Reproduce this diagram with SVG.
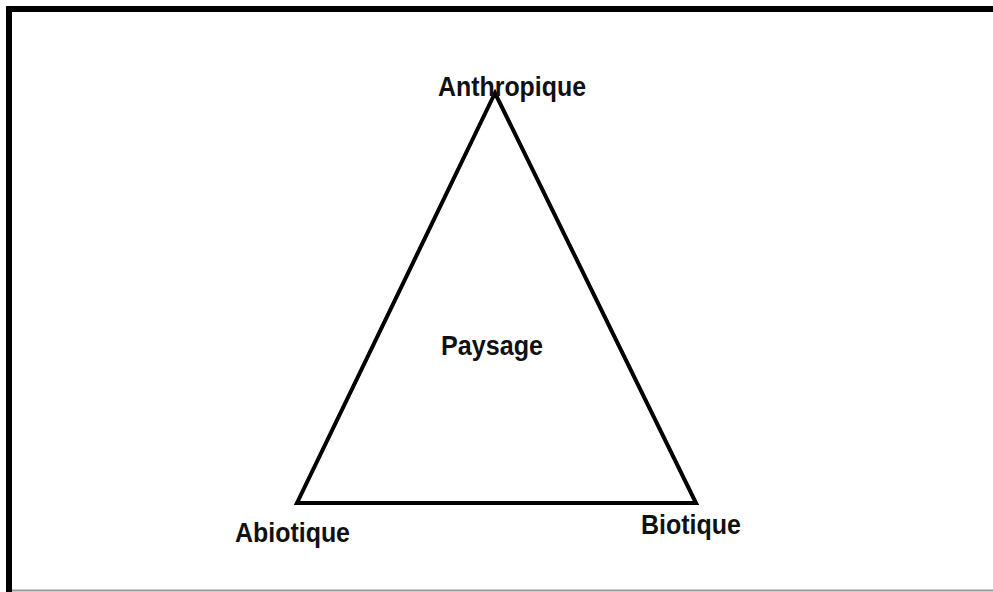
<svg xmlns="http://www.w3.org/2000/svg" width="993" height="592" viewBox="0 0 993 592">
<style>
.lbl{font-family:"Liberation Sans",Arial,sans-serif;font-weight:bold;font-size:28px;fill:#111;}
</style>
<rect width="993" height="592" fill="#fff"/>
<g id="frame">
<path d="M9,592 V9 H993" fill="none" stroke="#000" stroke-width="6"/>
<line x1="12" y1="590.5" x2="993" y2="590.5" stroke="#999" stroke-width="2"/>
</g>
<g id="connectors">
<polygon points="495,93 297,503 696,503" fill="none" stroke="#000" stroke-width="4" stroke-linejoin="miter"/>
</g>
<g id="anthropique"><text class="lbl" x="438" y="96" textLength="148" lengthAdjust="spacingAndGlyphs">Anthropique</text></g>
<g id="paysage"><text class="lbl" x="441" y="355" textLength="102" lengthAdjust="spacingAndGlyphs">Paysage</text></g>
<g id="abiotique"><text class="lbl" x="235" y="542" textLength="115" lengthAdjust="spacingAndGlyphs">Abiotique</text></g>
<g id="biotique"><text class="lbl" x="641" y="534" textLength="100" lengthAdjust="spacingAndGlyphs">Biotique</text></g>
</svg>
